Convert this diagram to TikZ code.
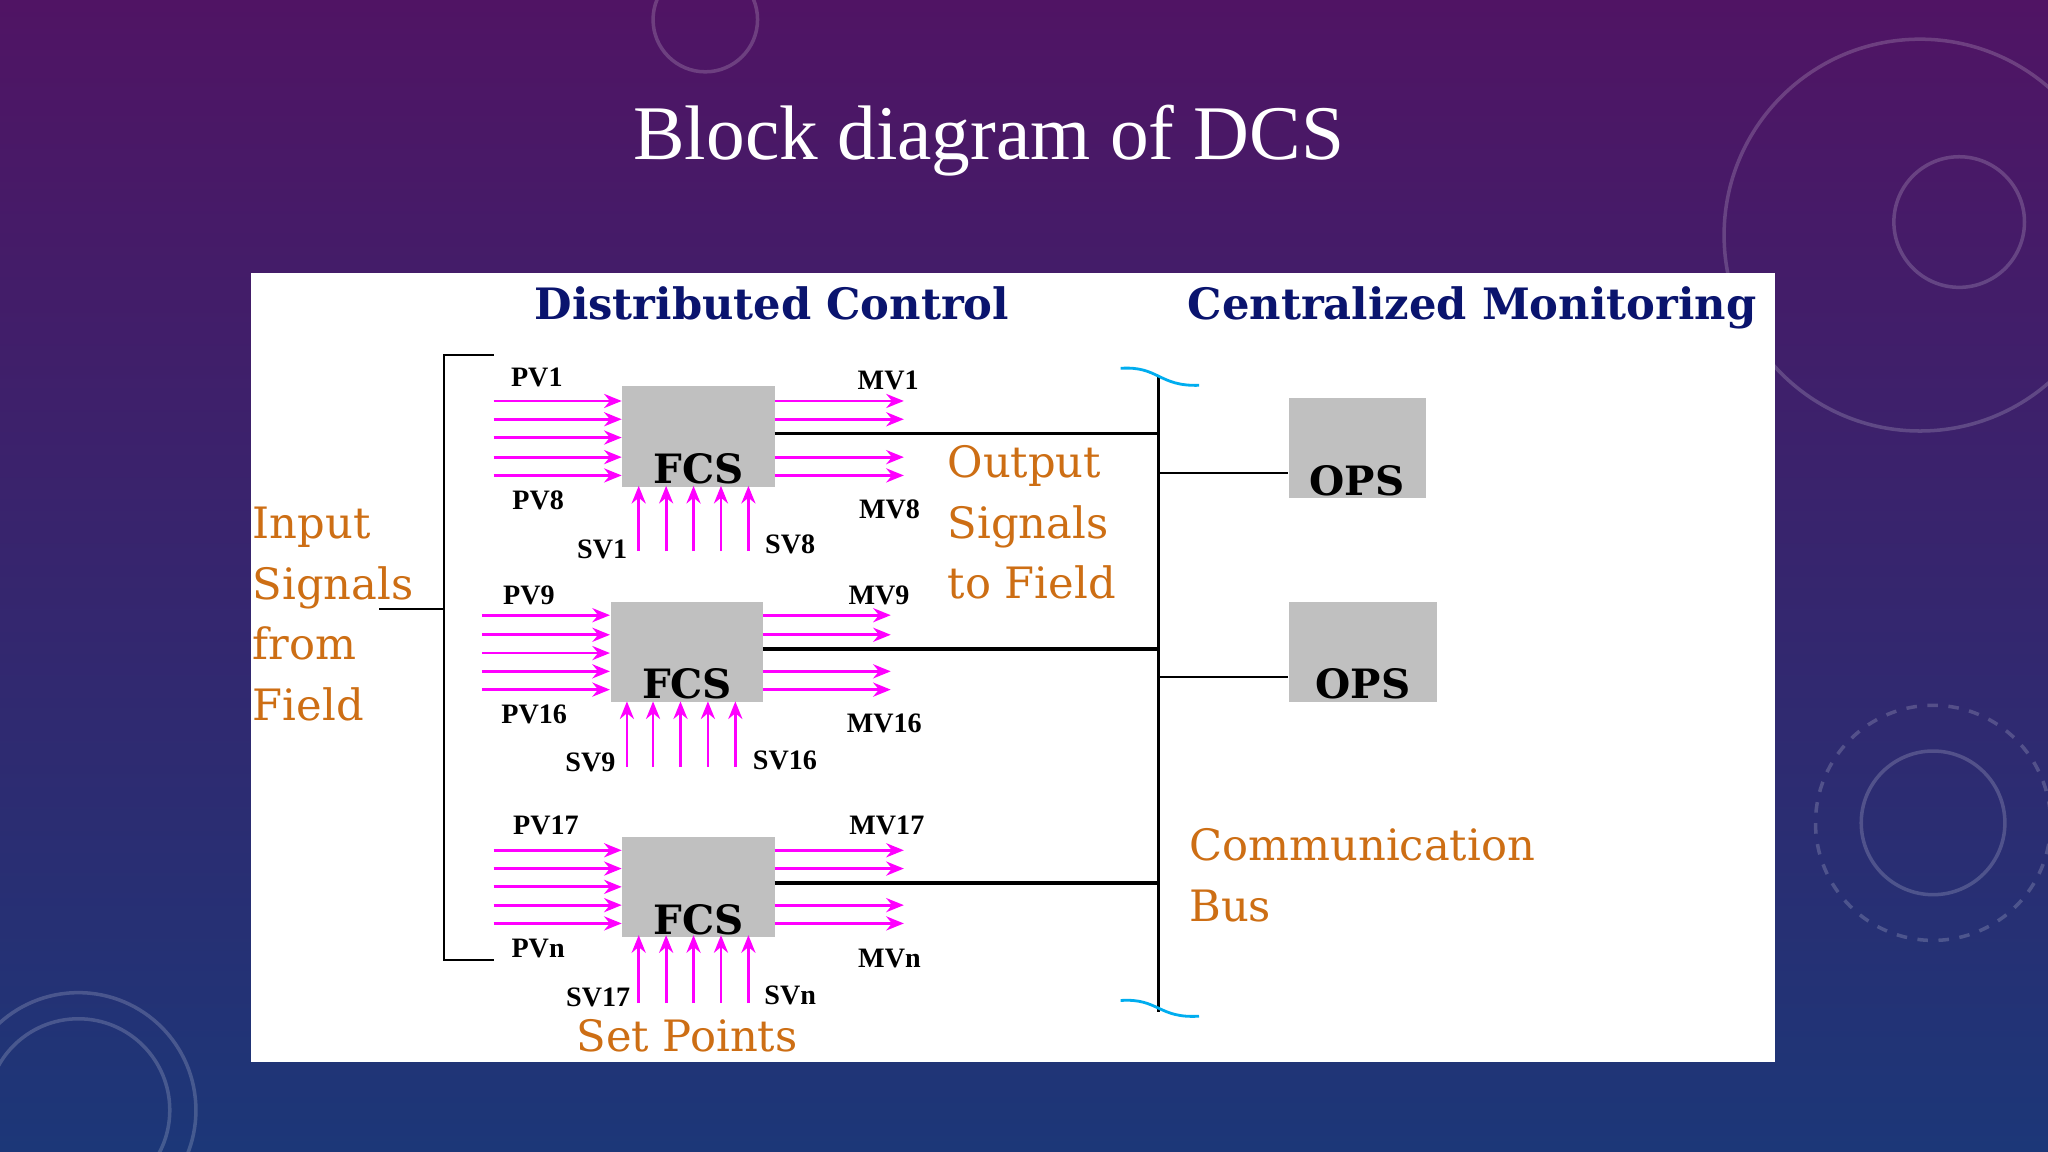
\documentclass[tikz,border=0pt]{standalone}
\usepackage{fontspec}
\setmainfont{Liberation Serif}
\newfontfamily\dvs{DejaVu Serif}
\usetikzlibrary{arrows.meta,calc}
\begin{document}
\begin{tikzpicture}[x=0.013061cm,y=-0.013061cm,
  arr/.style={-{Stealth[length=5pt,width=4pt]},draw={rgb,255:red,255;green,0;blue,255},line width=0.8pt},
  lab/.style={font=\fontsize{8}{9}\selectfont\bfseries,inner sep=0pt},
  org/.style={font=\dvs\fontsize{12.3}{17.2}\selectfont,text={rgb,255:red,205;green,110;blue,20},align=left,inner sep=0pt,anchor=west},
  hd/.style={font=\dvs\fontsize{12.3}{15}\selectfont\bfseries,text={rgb,255:red,10;green,20;blue,110},anchor=base,inner sep=0pt},
  boxg/.style={fill={rgb,255:red,192;green,192;blue,192},draw=none},
  bx/.style={font=\dvs\fontsize{11.5}{14}\selectfont\bfseries,inner sep=0pt}]
\shade[top color={rgb,255:red,80;green,20;blue,100},bottom color={rgb,255:red,28;green,55;blue,120}] (0,0) rectangle (1568,882);
\useasboundingbox (0,0) rectangle (1568,882);
\begin{scope}[draw=white,opacity=0.18,line width=1pt]
\draw (1500,170) circle (50); \draw (1470,180) circle (150); \draw (1480,630) circle (55); \draw[dashed] (1480,630) circle (90);
\draw (540,15) circle (40); \draw (60,850) circle (70); \draw (60,850) circle (90);
\end{scope}
\node[text=white,font=\fontsize{22}{26}\selectfont] (title) at (757,108) {Block diagram of DCS};
\fill[white] (192,209) rectangle (1359,813);
\node[hd] (h1) at (591,245) {Distributed Control};
\node[hd] (h2) at (1127,245) {Centralized Monitoring};
% left bracket
\draw[line width=0.6pt] (378,272) -- (340,272) -- (340,735) -- (378,735);
\draw[line width=0.6pt] (340,466) -- (290,466);
% bus
\coordinate (bt) at (887,287); \coordinate (bb) at (887,775);
\draw[line width=1pt] (bt) -- (bb);
\draw[cyan,line width=0.8pt] (858,282) .. controls (887,280) and (887,296) .. (918,295);
\draw[cyan,line width=0.8pt] (858,766) .. controls (887,764) and (887,780) .. (918,778);
% FCS blocks
\foreach \n/\x/\y in {1/476/295, 2/467/460, 3/476/640}{
  \node[boxg,minimum width=117*0.013061cm,minimum height=77*0.013061cm,anchor=north west] (f\n) at (\x,\y) {};
  \node[bx,anchor=south] (ft\n) at ($(f\n.south)+(0,-2)$) {FCS};
}
% arrows box1
\foreach \yy in {307,321,335,350,364} \draw[arr] (378,\yy) -- (476,\yy);
\foreach \yy in {307,321,350,364} \draw[arr] (593,\yy) -- (692,\yy);
\foreach \xx in {489,510,531,552,573} \draw[arr] (\xx,422) -- (\xx,372);
\draw[line width=1pt] (593,332) -- (887,332);
% box2
\foreach \yy in {471,486,500,514,528} \draw[arr] (369,\yy) -- (467,\yy);
\foreach \yy in {471,486,514,528} \draw[arr] (584,\yy) -- (682,\yy);
\foreach \xx in {480,500,521,542,563} \draw[arr] (\xx,587) -- (\xx,537);
\draw[line width=1pt] (584,497) -- (887,497);
% box3
\foreach \yy in {651,665,679,693,707} \draw[arr] (378,\yy) -- (476,\yy);
\foreach \yy in {651,665,693,707} \draw[arr] (593,\yy) -- (692,\yy);
\foreach \xx in {489,510,531,552,573} \draw[arr] (\xx,768) -- (\xx,716);
\draw[line width=1pt] (593,676) -- (887,676);
% OPS
\node[boxg,minimum width=105*0.013061cm,minimum height=77*0.013061cm,anchor=north west] (o1) at (986,304) {};
\node[bx,anchor=south] (ot1) at ($(o1.south)+(0,-2)$) {OPS};
\node[boxg,minimum width=114*0.013061cm,minimum height=77*0.013061cm,anchor=north west] (o2) at (986,460) {};
\node[bx,anchor=south] (ot2) at ($(o2.south)+(0,-2)$) {OPS};
\coordinate (c1) at (887,362); \coordinate (c2) at (887,518);
\draw[line width=0.6pt] (c1) -- (c1 -| o1.west);
\draw[line width=0.6pt] (c2) -- (c2 -| o2.west);
% small labels
\foreach \t/\x/\y in {PV1/411/289,PV8/412/383,SV1/461/421,SV8/605/417,MV1/680/291,MV8/681/390,
  PV9/405/456,PV16/409/547,SV9/452/584,SV16/601/582,MV9/673/456,MV16/677/554,
  PV17/418/632,PVn/412/726,SV17/458/764,SVn/605/762,MV17/679/632,MVn/681/734}
  \node[lab] at (\x,\y) {\t};
% orange labels
\node[org] (in) at (193,470) {Input\\Signals\\from\\Field};
\node[org] (out) at (725,400) {Output\\Signals\\to Field};
\node[org] (cb) at (910,670) {Communication\\Bus};
\node[org,anchor=center] (sp) at (526,793) {Set Points};
\end{tikzpicture}
\end{document}
